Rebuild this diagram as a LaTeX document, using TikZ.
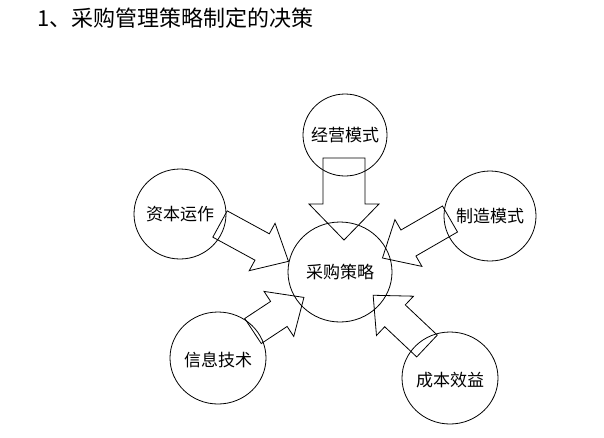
\documentclass[tikz,border=0pt]{standalone}
\usepackage{fontspec}
\setmainfont{Noto Sans CJK SC}
\usetikzlibrary{positioning}
\tikzset{
  label/.style={font=\fontsize{17}{17}\selectfont},
  arrowbox/.style={draw, thick, fill=white}
}
% block arrow: tail position, angle, length, shaft half width, head half width, head length
\newcommand{\blockarr}[6]{%
  \draw[arrowbox, shift={#1}, rotate=#2]
    (0,-#4) -- (#3-#6,-#4) -- (#3-#6,-#5) -- (#3,0) -- (#3-#6,#5) -- (#3-#6,#4) -- (0,#4) -- cycle;}

\begin{document}
\begin{tikzpicture}[x=1pt, y=-1pt]
    \useasboundingbox (0,0) rectangle (604,437);
    \node[anchor=west, font=\fontsize{22}{22}\selectfont] (title) at (34,18) {1、采购管理策略制定的决策};

    % arrows into the centre
    \blockarr{(344,158)}{-90}{82}{21}{35}{36}
    \blockarr{(220,224)}{-28.6}{78}{15}{27}{30}
    \blockarr{(450,219)}{-150}{78}{15}{27}{30}
    \blockarr{(253,331)}{33.4}{61}{15}{27}{30}
    \blockarr{(427,346)}{136.7}{74}{15}{27}{30}

    % circles
    \draw[thick] (345,135) ellipse (42 and 41);
    \node[label] (mode) at (345,135) {经营模式};
    \draw[thick] (180,214) ellipse (46 and 45);
    \node[label] (capital) at (180,214) {资本运作};
    \draw[thick] (490,216) ellipse (46 and 45);
    \node[label] (make) at (490,216) {制造模式};
    \draw[thick] (340,272) ellipse (52 and 50);
    \node[label] (purchase) at (340,272) {采购策略};
    \draw[thick] (218,358) ellipse (48 and 46);
    \node[label] (info) at (218,360) {信息技术};
    \draw[thick] (450,378) ellipse (48 and 46);
    \node[label] (cost) at (450,380) {成本效益};
\end{tikzpicture}
\end{document}
